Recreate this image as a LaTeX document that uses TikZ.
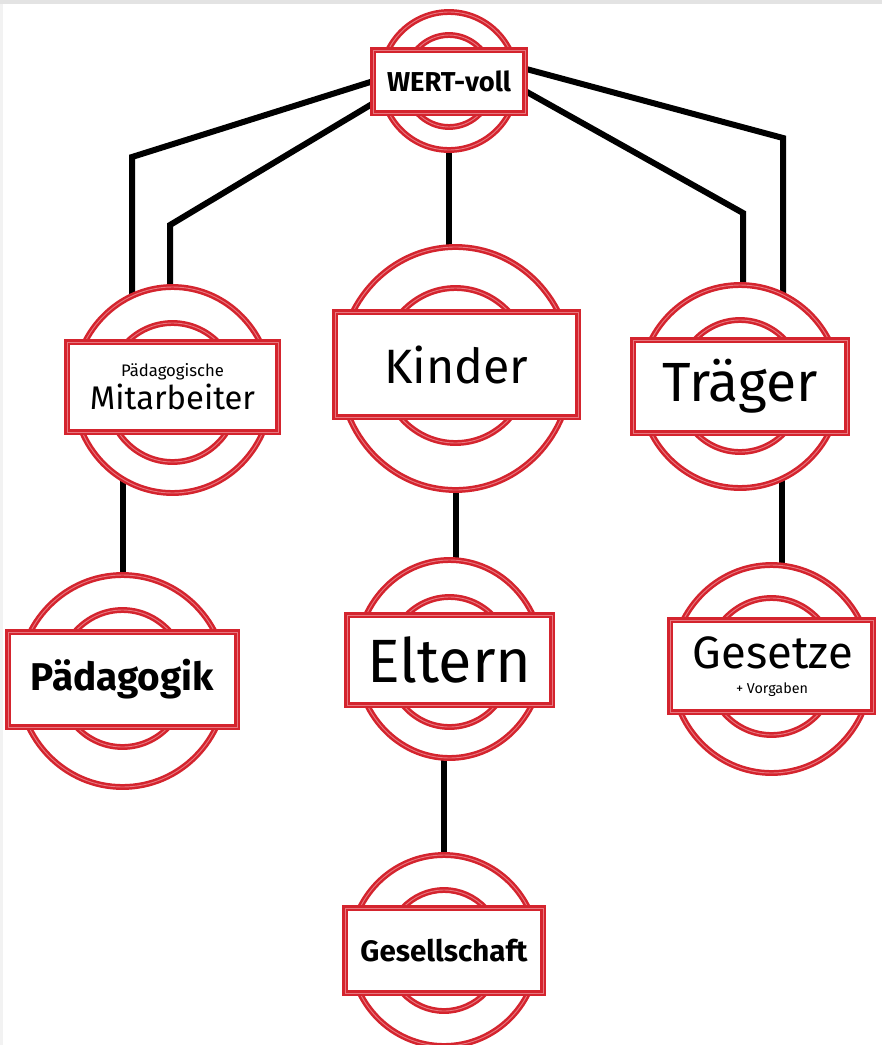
\documentclass[tikz,border=0pt]{standalone}
\usepackage{fontspec}
\setmainfont{Fira Sans}
\usetikzlibrary{shapes.geometric,calc,backgrounds}
\definecolor{stampred}{RGB}{212,36,46}
\definecolor{stamppink}{RGB}{232,120,128}
\tikzset{
  ring/.style={ellipse, draw=stampred, double=stamppink, double distance=0.9pt,
    line width=2.5pt, fill=white, inner sep=0pt},
  bar/.style={rectangle, draw=stampred, double=stamppink, double distance=0.9pt,
    line width=2.1pt, fill=white, inner sep=0pt, align=center},
  txt/.style={inner sep=0pt},
  link/.style={line width=6pt, black, line join=miter},
}
\begin{document}
\begin{tikzpicture}[x=1pt,y=-1pt]
\useasboundingbox (0,0) rectangle (882,1045);
% ---- WERT-voll
\node[ring, minimum width=136, minimum height=138] (wertO) at (449,81) {};
\node[ring, minimum width=88, minimum height=92] (wertI) at (449,81) {};
\node[bar, minimum width=152, minimum height=63] (wert) at (449,81.5) {\resizebox{124pt}{!}{\bfseries WERT-voll}};
% ---- Paedagogische Mitarbeiter
\node[ring, minimum width=198, minimum height=206] (mitO) at (172.5,390) {};
\node[ring, minimum width=132, minimum height=139] (mitI) at (172.5,392.5) {};
\node[bar, minimum width=211, minimum height=90] (mit) at (172.5,387) {\resizebox{103pt}{!}{Pädagogische}\\[3pt]\resizebox{165pt}{!}{Mitarbeiter}};
% ---- Kinder
\node[ring, minimum width=232, minimum height=243] (kinO) at (455.5,368.5) {};
\node[ring, minimum width=148, minimum height=155] (kinI) at (455.5,365.5) {};
\node[bar, minimum width=243, minimum height=105] (kin) at (456.5,364.5) {\resizebox{144pt}{!}{Kinder}};
% ---- Traeger
\node[ring, minimum width=200, minimum height=203] (trO) at (740,386.5) {};
\node[ring, minimum width=126, minimum height=132] (trI) at (740,386) {};
\node[bar, minimum width=214, minimum height=93] (tr) at (740,386.5) {\resizebox{155pt}{!}{Träger}};
% ---- Paedagogik
\node[ring, minimum width=208, minimum height=212] (padO) at (122.5,681) {};
\node[ring, minimum width=130, minimum height=137] (padI) at (122.5,678.5) {};
\node[bar, minimum width=229, minimum height=95] (pad) at (122.5,679.5) {\resizebox{183pt}{!}{\bfseries Pädagogik}};
% ---- Eltern
\node[ring, minimum width=186, minimum height=198] (elO) at (449.5,659) {};
\node[ring, minimum width=124, minimum height=130] (elI) at (449.5,662) {};
\node[bar, minimum width=205, minimum height=90] (el) at (449.5,660) {\resizebox{164pt}{!}{Eltern}};
% ---- Gesetze
\node[ring, minimum width=200, minimum height=208] (geO) at (771.5,669) {};
\node[ring, minimum width=130, minimum height=137] (geI) at (771.5,666.5) {};
\node[bar, minimum width=203, minimum height=92] (ge) at (771.5,666) {};
\node[txt] (geT) at (773,653) {\resizebox{160pt}{!}{Gesetze}};
\node[txt] (geV) at (772,690) {\resizebox{72pt}{!}{+ Vorgaben}};
% ---- Gesellschaft
\node[ring, minimum width=188, minimum height=191] (gsO) at (444,950.5) {};
\node[ring, minimum width=116, minimum height=121] (gsI) at (444,950.5) {};
\node[bar, minimum width=198, minimum height=85] (gs) at (444,950.5) {\resizebox{167pt}{!}{\bfseries Gesellschaft}};
% ---- connectors (behind the stamps)
\coordinate (k1) at (132,157);
\coordinate (k2) at (170,225);
\coordinate (k3) at (783,138);
\coordinate (k4) at (743,213);
\coordinate (tg) at (782,530);
\begin{scope}[on background layer]
\fill[gray!22] (0,0) rectangle (882,4);
\fill[gray!10] (0,4) rectangle (3,1045);
\draw[link] (wert.west) -- (k1) -- (k1 |- mitO.center);
\draw[link] ($(wert.south west)+(0,-10)$) -- (k2) -- (k2 |- mitO.center);
\draw[link] ($(wert.north east)+(0,20)$) -- (k3) -- (k3 |- trO.center);
\draw[link] ($(wert.east)+(0,10)$) -- (k4) -- (k4 |- trO.center);
\draw[link] (wertO.center) -- (wertO.center |- kinO.center);
\draw[link] (padO.center |- mitO.center) -- (padO.center);
\draw[link] (kinO.center) -- (kinO.center |- elO.center);
\draw[link] (tg |- trO.center) -- (tg |- geO.center);
\draw[link] (gsO.center |- elO.center) -- (gsO.center);
\end{scope}
\end{tikzpicture}
\end{document}
